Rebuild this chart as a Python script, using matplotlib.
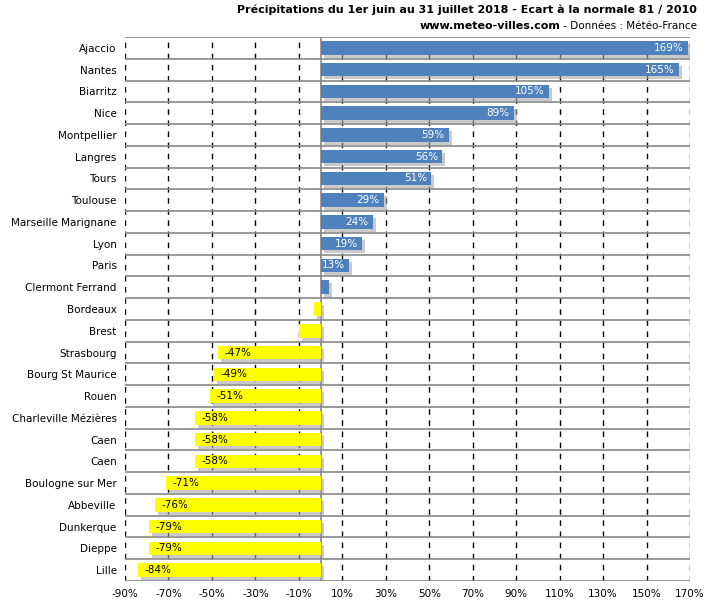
import matplotlib
matplotlib.use("Agg")
import matplotlib.pyplot as plt
import matplotlib.transforms as mtransforms

villes = ["Ajaccio", "Nantes", "Biarritz", "Nice", "Montpellier", "Langres", "Tours",
          "Toulouse", "Marseille Marignane", "Lyon", "Paris", "Clermont Ferrand",
          "Bordeaux", "Brest", "Strasbourg", "Bourg St Maurice", "Rouen",
          "Charleville Mézières", "Caen", "Caen", "Boulogne sur Mer", "Abbeville",
          "Dunkerque", "Dieppe", "Lille"]
ecarts = [169, 165, 105, 89, 59, 56, 51, 29, 24, 19, 13, 4, -3, -10, -47, -49, -51,
          -58, -58, -58, -71, -76, -79, -79, -84]
ticks = list(range(-90, 171, 20))

fig = plt.figure(figsize=(7.15, 6.06), dpi=100)
ax = fig.add_axes([125 / 715, 1 - 581 / 606, 565 / 715, 544 / 606])

n = len(villes)
ys = list(range(n))
shadow = ax.transData + mtransforms.ScaledTranslation(3 / 100, -3 / 100, fig.dpi_scale_trans)
for y, v in zip(ys, ecarts):
    col = "#4f81bd" if v >= 0 else "#ffff00"
    # ombre
    ax.barh(y, v, left=0, height=0.62, color="#a8a8a8", alpha=0.6, zorder=2, transform=shadow)
    ax.barh(y, v, left=0, height=0.62, color=col, zorder=3)
    if abs(v) >= 11:
        ax.text(v - 2 if v > 0 else v + 3, y, f"{v}%", ha="right" if v > 0 else "left",
                va="center", fontsize=7.5, color="white" if v > 0 else "black", zorder=4)

ax.set_xlim(-90, 170)
ax.set_ylim(n - 0.5, -0.5)
ax.set_yticks(ys)
ax.set_yticklabels(villes, fontsize=7.5)
ax.set_xticks(ticks)
ax.set_xticklabels([f"{t}%" for t in ticks], fontsize=7.5)
ax.tick_params(length=0, pad=6)
for t in ticks:
    ax.axvline(t, color="black", ls=(0, (4, 4)), lw=1, zorder=1)
for y in range(n + 1):
    ax.axhline(y - 0.5, color="#888888", lw=1.2, zorder=1)
ax.axvline(0, color="#888888", lw=1.2, zorder=1)
for s in ax.spines.values():
    s.set_visible(False)

fig.text(0.975, 0.992, "Précipitations du 1er juin au 31 juillet 2018 - Ecart à la normale 81 / 2010",
         ha="right", va="top", fontsize=8, fontweight="bold")
t1 = fig.text(0.975, 0.965, " - Données : Météo-France", ha="right", va="top", fontsize=7.5)
fig.canvas.draw()
bb = t1.get_window_extent()
fig.text(bb.x0 / fig.bbox.width, 0.965, "www.meteo-villes.com", ha="right", va="top",
         fontsize=8, fontweight="bold")

fig.savefig("out.png", dpi=100)
